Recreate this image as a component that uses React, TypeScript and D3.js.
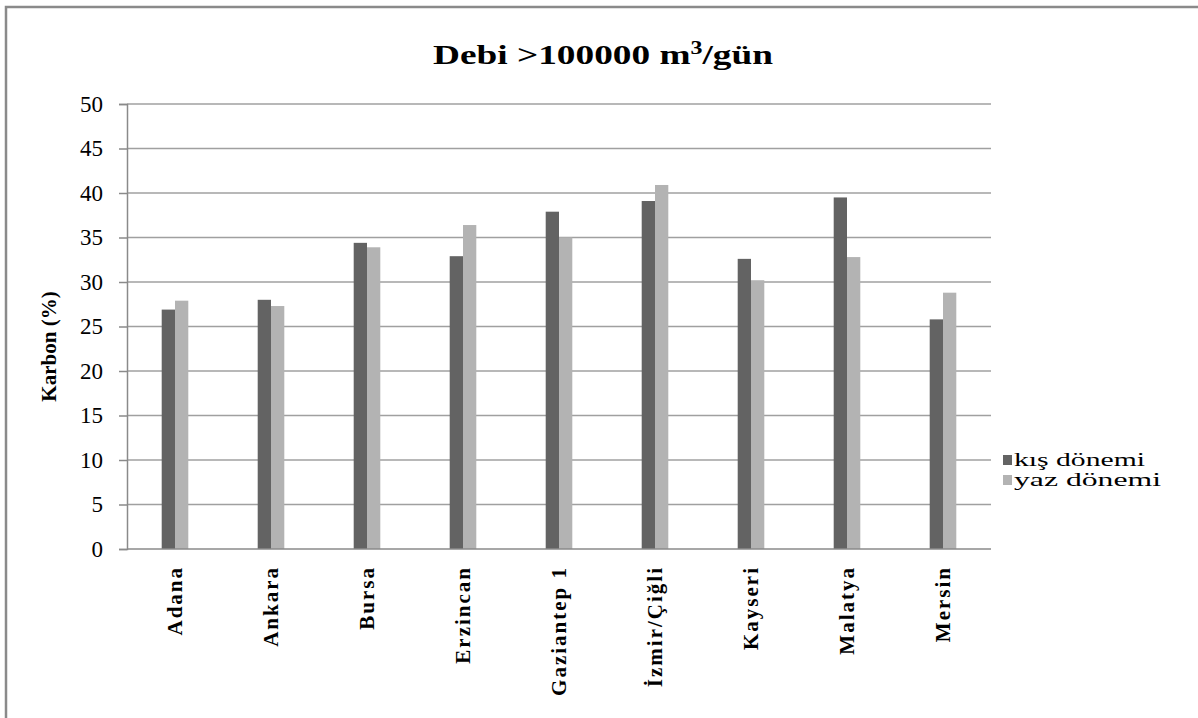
import React, { useEffect, useRef } from "react";
import * as d3 from "d3";

const cities = [
  "Adana",
  "Ankara",
  "Bursa",
  "Erzincan",
  "Gaziantep 1",
  "İzmir/Çiğli",
  "Kayseri",
  "Malatya",
  "Mersin",
];
const seriesNames = ["kış dönemi", "yaz dönemi"];
const kisValues = [26.9, 28.0, 34.4, 32.9, 37.9, 39.1, 32.6, 39.5, 25.8];
const yazValues = [27.9, 27.3, 33.9, 36.4, 35.0, 40.9, 30.2, 32.8, 28.8];
const yTicks = [0, 5, 10, 15, 20, 25, 30, 35, 40, 45, 50];
const seriesColors = ["#636363", "#b3b3b3"];

const W = 1198;
const H = 718;
const plot = { left: 127, right: 991, top: 104, bottom: 549 };
const FONT = "Liberation Serif, Times New Roman, Times, serif";

export default function App() {
  const ref = useRef<SVGSVGElement | null>(null);

  useEffect(() => {
    const svg = d3.select(ref.current);
    svg.selectAll("*").remove();

    // outer chart frame
    svg
      .append("rect")
      .attr("x", 6)
      .attr("y", 7)
      .attr("width", W + 10)
      .attr("height", H + 10)
      .attr("fill", "#fff")
      .attr("stroke", "#8a8a8a")
      .attr("stroke-width", 2.5);

    const x0 = d3
      .scaleBand<string>()
      .domain(cities)
      .range([plot.left, plot.right])
      .paddingInner(0)
      .paddingOuter(0);
    const x1 = d3
      .scaleBand<string>()
      .domain(seriesNames)
      .range([0, x0.bandwidth()])
      .paddingInner(0)
      .paddingOuter(2.61);
    const y = d3.scaleLinear().domain([0, 50]).range([plot.bottom, plot.top]);

    // horizontal gridlines
    svg
      .append("g")
      .selectAll("line")
      .data(yTicks.filter((t) => t > 0))
      .join("line")
      .attr("x1", plot.left)
      .attr("x2", plot.right)
      .attr("y1", (d) => y(d))
      .attr("y2", (d) => y(d))
      .attr("stroke", "#a0a0a0")
      .attr("stroke-width", 1.5);

    // y axis
    const yAxis = d3
      .axisLeft(y)
      .tickValues(yTicks)
      .tickSize(8)
      .tickPadding(16)
      .tickFormat((d) => String(d));
    const gy = svg
      .append("g")
      .attr("transform", `translate(${plot.left},0)`)
      .call(yAxis);
    gy.attr("font-family", null).attr("font-size", null);
    gy.select(".domain").attr("stroke", "#8a8a8a").attr("stroke-width", 1.5);
    gy.selectAll(".tick line").attr("stroke", "#8a8a8a").attr("stroke-width", 1.5);
    gy.selectAll(".tick text")
      .style("font-family", FONT)
      .style("font-size", "23px")
      .attr("fill", "#000");

    // bars
    const data = cities.map((c, i) => ({
      city: c,
      values: [kisValues[i], yazValues[i]],
    }));
    const groups = svg
      .append("g")
      .selectAll("g")
      .data(data)
      .join("g")
      .attr("transform", (d) => `translate(${x0(d.city)},0)`);
    groups
      .selectAll("rect")
      .data((d) => d.values.map((v, j) => ({ v, s: seriesNames[j], j })))
      .join("rect")
      .attr("x", (d) => x1(d.s)!)
      .attr("width", x1.bandwidth())
      .attr("y", (d) => y(d.v))
      .attr("height", (d) => y(0) - y(d.v))
      .attr("fill", (d) => seriesColors[d.j]);

    // x axis line
    svg
      .append("line")
      .attr("x1", plot.left)
      .attr("x2", plot.right)
      .attr("y1", plot.bottom)
      .attr("y2", plot.bottom)
      .attr("stroke", "#8a8a8a")
      .attr("stroke-width", 1.5);

    // category labels, rotated
    svg
      .append("g")
      .selectAll("text")
      .data(cities)
      .join("text")
      .attr(
        "transform",
        (d) => `translate(${x0(d)! + x0.bandwidth() / 2 + 7},${plot.bottom + 17}) rotate(-90)`
      )
      .attr("text-anchor", "end")
      .style("font-family", FONT)
      .style("font-weight", "bold")
      .style("font-size", "21px")
      .style("letter-spacing", "2px")
      .attr("fill", "#000")
      .text((d) => d);

    // y axis title
    svg
      .append("text")
      .attr("transform", `translate(56,${(plot.top + plot.bottom) / 2 + 20}) rotate(-90)`)
      .attr("text-anchor", "middle")
      .style("font-family", FONT)
      .style("font-weight", "bold")
      .style("font-size", "21px")
      .attr("fill", "#000")
      .text("Karbon (%)");

    // chart title
    const title = svg
      .append("text")
      .attr("x", 433)
      .attr("y", 64)
      .attr("textLength", 340)
      .attr("lengthAdjust", "spacingAndGlyphs")
      .style("font-family", FONT)
      .style("font-weight", "bold")
      .style("font-size", "28px")
      .attr("fill", "#000");
    title.append("tspan").text("Debi >100000 m");
    title.append("tspan").style("font-size", "18px").attr("dy", -10).text("3");
    title.append("tspan").attr("dy", 10).text("/gün");

    // legend (text drawn wide, stretched horizontally)
    const legendWidths = [131, 147];
    const legend = svg
      .append("g")
      .selectAll("g")
      .data(seriesNames)
      .join("g")
      .attr("transform", (_, i) => `translate(1003,${455 + i * 20})`);
    legend
      .append("rect")
      .attr("width", 9)
      .attr("height", 10)
      .attr("fill", (_, i) => seriesColors[i]);
    legend
      .append("text")
      .attr("x", 11)
      .attr("y", 11)
      .attr("textLength", (_, i) => legendWidths[i])
      .attr("lengthAdjust", "spacingAndGlyphs")
      .style("font-family", FONT)
      .style("font-size", "18px")
      .attr("fill", "#000")
      .text((d) => d);
  }, []);

  return (
    <svg
      ref={ref}
      width={W}
      height={H}
      style={{ position: "absolute", left: 0, top: 0, background: "#fff" }}
    />
  );
}
